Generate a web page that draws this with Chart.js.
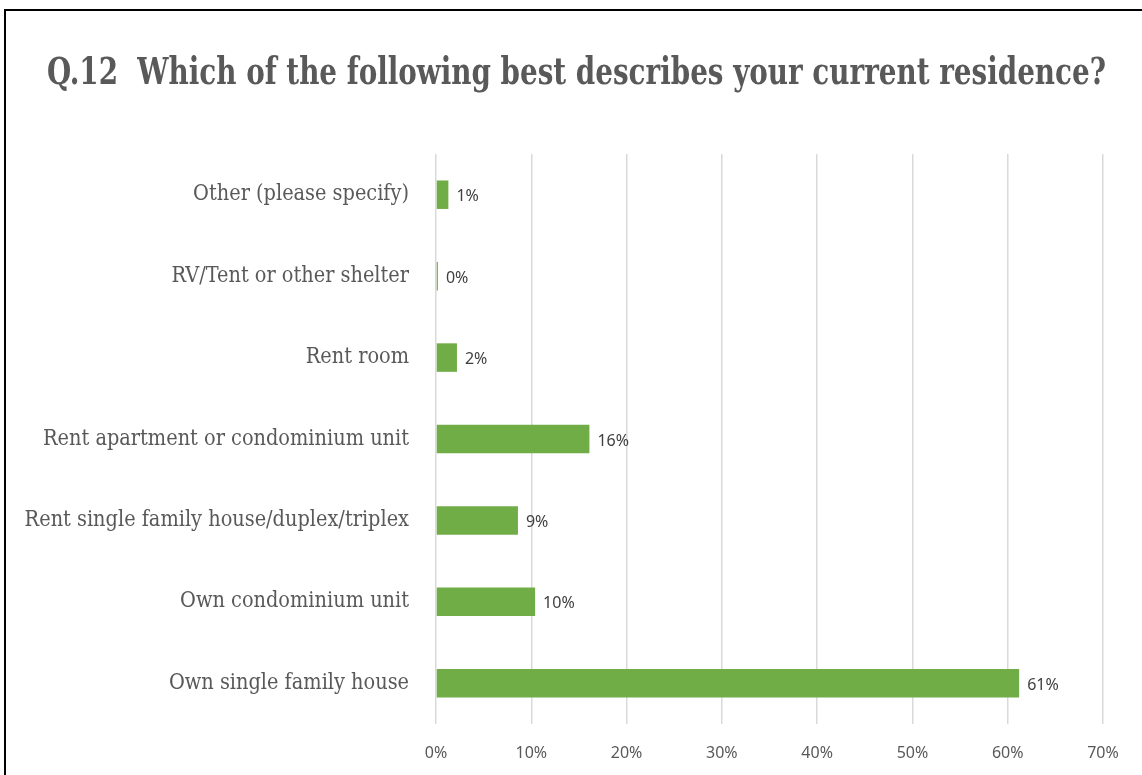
<!DOCTYPE html>
<html>
<head>
<meta charset="utf-8">
<script src="https://cdn.jsdelivr.net/npm/chart.js@4"></script>
<style>
  html, body { margin: 0; padding: 0; background: #fff; overflow: hidden; }
  #wrap { position: relative; width: 1142px; height: 775px; overflow: hidden; }
  #frame { position: absolute; left: 4px; top: 9px; width: 1400px; height: 900px; border: 2px solid #000; box-sizing: border-box; pointer-events: none; }
  canvas { position: absolute; left: 0; top: 0; }
</style>
</head>
<body>
<div id="wrap">
  <canvas id="residenceChart" width="1142" height="775"></canvas>
  <div id="frame"></div>
</div>
<script>
const categories = [
  'Other (please specify)',
  'RV/Tent or other shelter',
  'Rent room',
  'Rent apartment or condominium unit',
  'Rent single family house/duplex/triplex',
  'Own condominium unit',
  'Own single family house'
];
const shares = [1.3, 0.2, 2.2, 16.1, 8.6, 10.4, 61.2];
const xTicks = [0, 10, 20, 30, 40, 50, 60, 70];
const titleText = 'Q.12  Which of the following best describes your current residence?';

// heading drawn at a fixed spot above the plot, sized to span 47..1105
// and stretched a little vertically for a taller slab look
const heading = {
  id: 'heading',
  afterDraw(chart) {
    const ctx = chart.ctx;
    const family = '"DejaVu Serif Condensed", "DejaVu Serif"';
    ctx.save();
    ctx.font = 'bold 30px ' + family;
    const size = 30 * 1058 / ctx.measureText(titleText).width;
    ctx.font = 'bold ' + size.toFixed(1) + 'px ' + family;
    ctx.fillStyle = '#595959';
    ctx.textBaseline = 'alphabetic';
    ctx.translate(47, 84);
    ctx.scale(1, 1.22);
    ctx.fillText(titleText, 0, 0);
    ctx.restore();
  }
};

// value labels just past the end of each bar
const barLabels = {
  id: 'barLabels',
  afterDatasetsDraw(chart) {
    const ctx = chart.ctx;
    ctx.save();
    ctx.font = '16px "Noto Sans"';
    ctx.fillStyle = '#404040';
    ctx.textBaseline = 'middle';
    chart.getDatasetMeta(0).data.forEach((bar, i) => {
      ctx.fillText(Math.round(shares[i]) + '%', bar.x + 8, bar.y + 2);
    });
    ctx.restore();
  }
};

new Chart(document.getElementById('residenceChart'), {
  type: 'bar',
  data: {
    labels: categories,
    datasets: [{
      data: shares,
      backgroundColor: '#70ad47',
      borderWidth: 0,
      categoryPercentage: 0.7,
      barPercentage: 0.5
    }]
  },
  options: {
    responsive: false,
    animation: false,
    indexAxis: 'y',
    layout: { padding: { left: 10, right: 39, top: 154, bottom: 0 } },
    plugins: {
      legend: { display: false },
      tooltip: { enabled: false },
      title: { display: false }
    },
    scales: {
      x: {
        min: 0,
        max: 70,
        afterBuildTicks: scale => { scale.ticks = xTicks.map(v => ({ value: v })); },
        afterFit: scale => { scale.height = 51; },
        grid: { color: '#d9d9d9', lineWidth: 1.5, drawTicks: false },
        border: { display: false },
        ticks: {
          padding: 20,
          color: '#595959',
          font: { family: '"Noto Sans"', size: 16 },
          callback: v => v + '%'
        }
      },
      y: {
        afterFit: scale => { scale.width = 426; },
        grid: { display: false },
        border: { display: false },
        ticks: {
          padding: 19,
          color: '#595959',
          font: { family: '"DejaVu Serif Condensed", "DejaVu Serif"', size: 21.5 }
        }
      }
    }
  },
  plugins: [barLabels, heading]
});
</script>
</body>
</html>
